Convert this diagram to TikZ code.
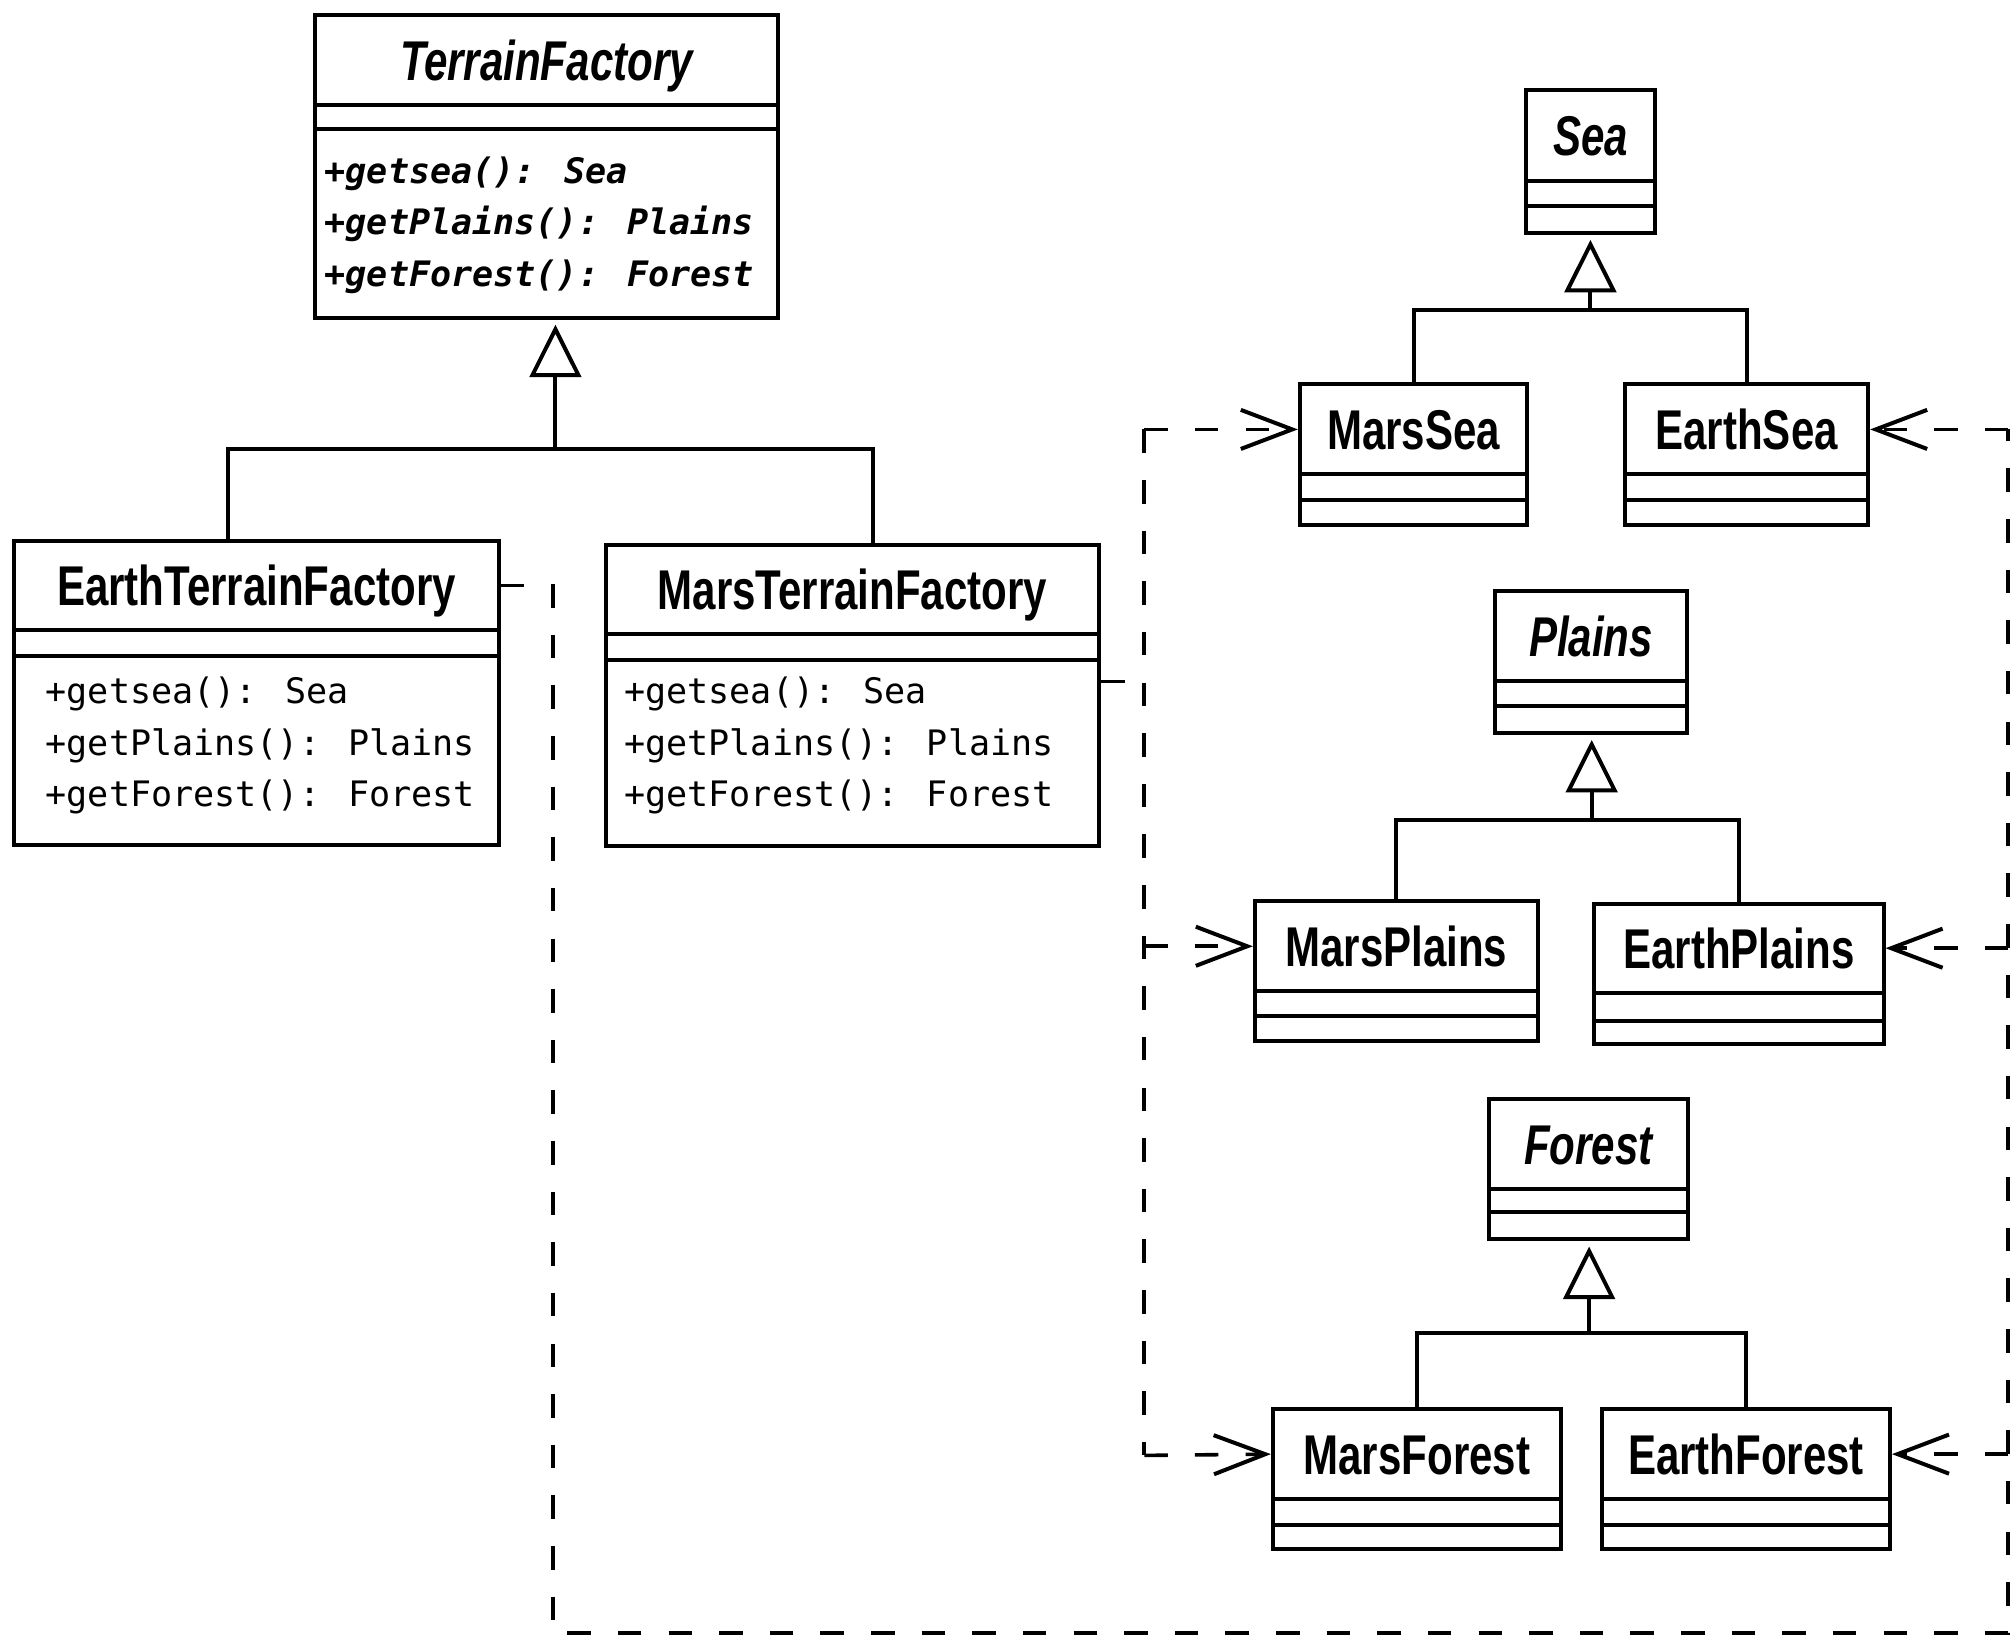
\documentclass[tikz,border=0pt]{standalone}
\usepackage{fontspec}
\setmainfont{Liberation Sans}
\newfontfamily\opsfont{DejaVu Sans Mono}
\usetikzlibrary{arrows.meta,fit}
\newcommand{\cnm}[1]{\scalebox{0.75}[1]{#1}}
% #1 name, #2 x1, #3 y1, #4 x2, #5 y2, #6 sep1, #7 sep2, #8 title
\newcommand{\umlclass}[8]{%
  \coordinate (#1-nw) at (#2,#3);
  \coordinate (#1-se) at (#4,#5);
  \node[classbox, fit=(#1-nw)(#1-se)] (#1) {};
  \draw[sepline] (#2,#6) -- (#4,#6) (#2,#7) -- (#4,#7);
  \node[titletext] (#1T) at ({(#2+#4)/2},{(#3+#6)/2}) {\cnm{#8}};
}
\begin{document}
\begin{tikzpicture}[x=0.0125cm,y=-0.0125cm,
  classbox/.style={draw, line width=1.1pt, inner sep=0pt},
  sepline/.style={line width=1.1pt},
  titletext/.style={font=\fontsize{15.5}{18}\selectfont\bfseries, inner sep=0pt, text height=11.1pt, text depth=0pt},
  opstext/.style={font=\opsfont\fontsize{9.7}{14.2}\selectfont, align=left, anchor=west, inner sep=0pt},
  opsabs/.style={opstext, font=\opsfont\fontsize{9.7}{14.2}\selectfont\bfseries\itshape},
  link/.style={line width=1.1pt},
  inh/.style={line width=1.1pt, -{Triangle[open,length=5.1mm,width=5mm,line width=1.1pt]}, shorten >=0.5mm},
  dep/.style={line width=1pt, dash pattern=on 6.5pt off 7.5pt},
  deparrow/.style={dep, -{Straight Barb[length=5mm,width=3.8mm,line width=1.1pt]}}]
\useasboundingbox (0,0) rectangle (1568,1272);

% classes
\umlclass{tf}{245}{12}{605}{247}{82}{100}{\itshape TerrainFactory}
\umlclass{etf}{11}{421}{388}{657}{490}{510}{EarthTerrainFactory}
\umlclass{mtf}{471}{424}{855}{658}{493}{513}{MarsTerrainFactory}
\umlclass{sea}{1187}{70}{1287}{181}{141}{160}{\itshape Sea}
\umlclass{marssea}{1011}{299}{1188}{408}{369}{389}{MarsSea}
\umlclass{earthsea}{1264}{299}{1453}{408}{369}{389}{EarthSea}
\umlclass{plains}{1163}{460}{1312}{570}{530}{549}{\itshape Plains}
\umlclass{marsplains}{976}{701}{1196}{810}{771}{790}{MarsPlains}
\umlclass{earthplains}{1240}{703}{1465}{812}{772}{794}{EarthPlains}
\umlclass{forest}{1158}{855}{1313}{964}{925}{943}{\itshape Forest}
\umlclass{marsforest}{990}{1096}{1214}{1205}{1166}{1186}{MarsForest}
\umlclass{earthforest}{1246}{1096}{1470}{1205}{1166}{1186}{EarthForest}

% operations
\node[opsabs] (tfops) at (252,175) {+getsea(): Sea\\+getPlains(): Plains\\+getForest(): Forest};
\node[opstext] (etfops) at (35,580) {+getsea(): Sea\\+getPlains(): Plains\\+getForest(): Forest};
\node[opstext] (mtfops) at (485,580) {+getsea(): Sea\\+getPlains(): Plains\\+getForest(): Forest};

% inheritance
\coordinate (tfl) at (177,349);
\coordinate (tfr) at (679,349);
\coordinate (tfj) at (432,349);
\draw[link] (etf.north -| tfl) -- (tfl) -- (tfr) -- (mtf.north -| tfr);
\draw[inh] (tfj) -- (tfj |- tf.south);

\coordinate (seaj) at (1237,241);
\draw[link] (marssea.north) |- (seaj) -| (earthsea.north);
\draw[inh] (seaj) -- (sea.south);

\coordinate (plainsj) at (1238,638);
\draw[link] (marsplains.north) |- (plainsj) -| (earthplains.north);
\draw[inh] (plainsj) -- (plainsj |- plains.south);

\coordinate (forestj) at (1236,1037);
\draw[link] (marsforest.north) |- (forestj) -| (earthforest.north);
\draw[inh] (forestj) -- (forestj |- forest.south);

% Mars dependencies
\coordinate (mstub) at (890,530);
\coordinate (mtop) at (890,334);
\coordinate (mbot) at (890,1132);
\draw[dep] (mtf.east |- mstub) -- (mstub);
\draw[dep] (mtop) -- (mbot);
\draw[deparrow] (mtop) -- (marssea.west |- marsseaT);
\draw[deparrow] (mtop |- marsplainsT) -- (marsplains.west |- marsplainsT);
\draw[deparrow] (mbot) -- (marsforest.west |- marsforestT);

% Earth dependencies
\coordinate (ebl) at (430,1270);
\coordinate (ebr) at (1562,1270);
\coordinate (etop) at (1562,334);
\draw[dep] (etf.east |- etfT) -| (ebl) -- (ebr) -- (etop);
\draw[deparrow] (etop) -- (earthsea.east |- earthseaT);
\draw[deparrow] (ebr |- earthplainsT) -- (earthplains.east |- earthplainsT);
\draw[deparrow] (ebr |- earthforestT) -- (earthforest.east |- earthforestT);
\end{tikzpicture}
\end{document}
